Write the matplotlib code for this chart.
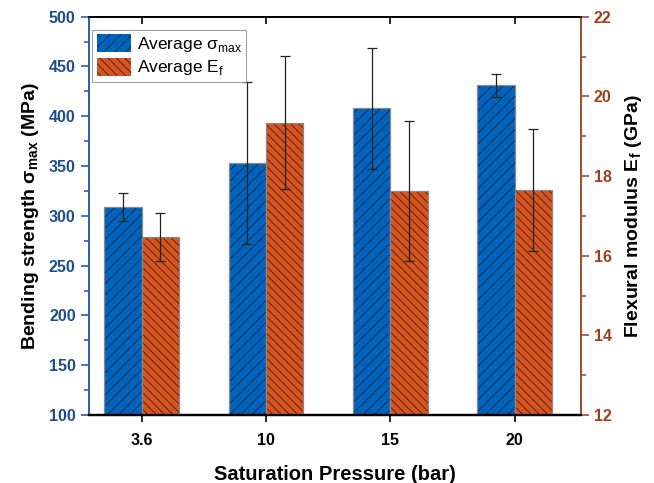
import matplotlib
matplotlib.use("Agg")
import matplotlib.pyplot as plt
import numpy as np
from matplotlib.ticker import MultipleLocator

plt.rcParams['font.family'] = ['Liberation Sans', 'DejaVu Sans']
plt.rcParams['hatch.linewidth'] = 0.5

categories = ['3.6', '10', '15', '20']
sigma_mean = [309, 353, 408, 431]
sigma_err = [14, 81.5, 61, 11.5]
ef_mean = [16.47, 19.34, 17.62, 17.64]
ef_err = [0.6, 1.67, 1.75, 1.53]

blue = '#0064BE'
orange = '#D9531E'
left_col = '#1F4E8C'
right_col = '#A0401A'
right_spine = '#A84A35'
left_spine = '#2E5FA8'
hatch_col = '#1a1a1a'

fig = plt.figure(figsize=(6.54, 4.83), dpi=100)
ax = fig.add_axes([0.136, 0.1408, 0.752, 0.8246])
ax2 = ax.twinx()

x = np.arange(len(categories))
w = 0.3
ax.bar(x - w / 2, sigma_mean, w, color=blue, edgecolor=hatch_col, linewidth=0,
       hatch='///', label='Average σ$_{\\mathregular{max}}$', zorder=2)
ax.bar(x - w / 2, sigma_mean, w, fill=False, edgecolor='#8a8a8a', linewidth=0.9, zorder=2.5)
ax.errorbar(x - w / 2, sigma_mean, yerr=sigma_err, fmt='none', ecolor='#222222',
            elinewidth=0.9, capsize=3.5, capthick=0.9, zorder=3)
ax2.bar(x + w / 2, ef_mean, w, color=orange, edgecolor=hatch_col, linewidth=0,
        hatch='\\\\\\\\', label='Average E$_{\\mathregular{f}}$', zorder=2)
ax2.bar(x + w / 2, ef_mean, w, fill=False, edgecolor='#8a8a8a', linewidth=0.9, zorder=2.5)
ax2.errorbar(x + w / 2, ef_mean, yerr=ef_err, fmt='none', ecolor='#222222',
             elinewidth=0.9, capsize=3.5, capthick=0.9, zorder=3)

ax.set_xlim(-0.423, 3.53)
ax.set_ylim(100, 500)
ax2.set_ylim(12, 22)
ax.set_xticks(x)
ax.set_xticklabels(categories, fontsize=11.5, fontweight='bold')
ax.yaxis.set_major_locator(MultipleLocator(50))
ax.yaxis.set_minor_locator(MultipleLocator(25))
ax2.yaxis.set_major_locator(MultipleLocator(2))
ax2.yaxis.set_minor_locator(MultipleLocator(1))

for lab in ax.get_yticklabels():
    lab.set_fontweight('bold'); lab.set_fontsize(11.5); lab.set_color(left_col)
for lab in ax2.get_yticklabels():
    lab.set_fontweight('bold'); lab.set_fontsize(11.5); lab.set_color(right_col)

ax.tick_params(axis='x', direction='out', length=5, width=1.2, top=False, pad=8)
ax.tick_params(axis='y', which='major', direction='out', length=6, width=1.2, color=left_spine)
ax.tick_params(axis='y', which='minor', direction='out', length=3.5, width=1.2, color=left_spine)
ax2.tick_params(axis='y', which='major', direction='out', length=6, width=1.2, color=right_spine)
ax2.tick_params(axis='y', which='minor', direction='out', length=3.5, width=1.2, color=right_spine)

# top ticks inward
secx = ax.secondary_xaxis('top')
secx.set_xticks(x)
secx.set_xticklabels([])
secx.tick_params(direction='in', length=5, width=1.2)

for a in (ax, ax2):
    a.spines['left'].set_color(left_spine)
    a.spines['right'].set_color(right_spine)
    a.spines['left'].set_linewidth(1.3)
    a.spines['right'].set_linewidth(1.3)
    a.spines['bottom'].set_linewidth(1.6)
    a.spines['top'].set_linewidth(1.2)
secx.spines['top'].set_linewidth(1.2)

ax.set_xlabel('Saturation Pressure (bar)', fontsize=14.5, fontweight='bold', labelpad=12)
ax.set_ylabel('Bending strength σ$_{\\mathregular{max}}$ (MPa)', fontsize=14, fontweight='bold', labelpad=6)
ax2.set_ylabel('Flexural modulus E$_{\\mathregular{f}}$ (GPa)', fontsize=14, fontweight='bold', labelpad=8)

h1, l1 = ax.get_legend_handles_labels()
h2, l2 = ax2.get_legend_handles_labels()
leg = ax2.legend(h1 + h2, l1 + l2, loc='upper left', bbox_to_anchor=(0.0, 0.975),
                 fontsize=12.5, frameon=True, fancybox=False, edgecolor='#888888',
                 handlelength=2.0, handleheight=1.2, borderpad=0.25, labelspacing=0.2,
                 handletextpad=0.3, borderaxespad=0.2)
leg.get_frame().set_linewidth(0.8)

fig.savefig('out.png', dpi=100)
